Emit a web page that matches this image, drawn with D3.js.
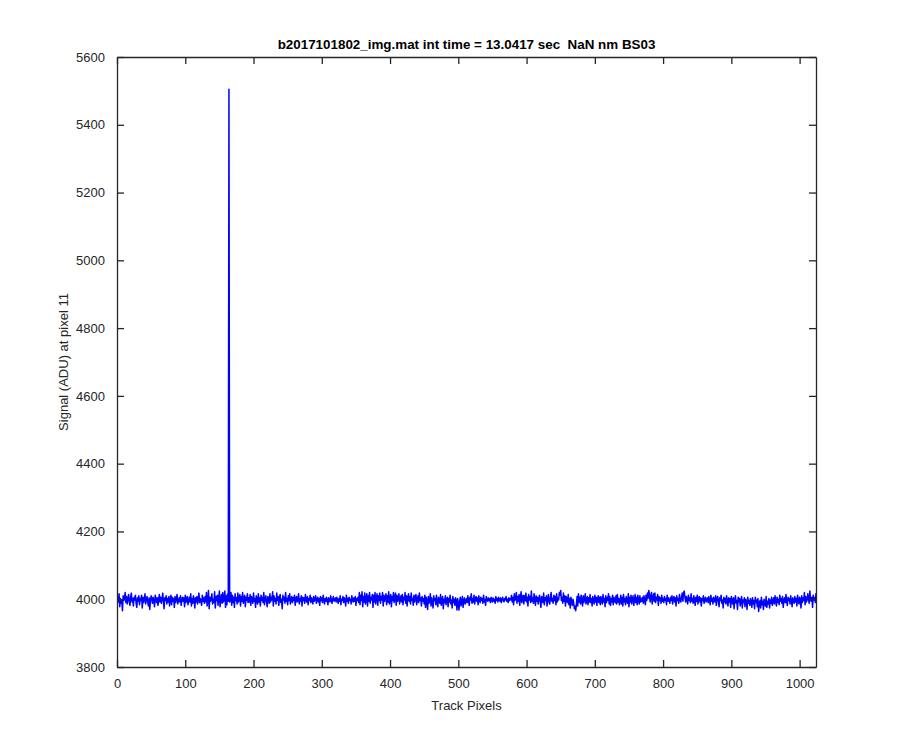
<!DOCTYPE html>
<html>
<head>
<meta charset="utf-8">
<script src="https://cdn.jsdelivr.net/npm/d3@7"></script>
<style>
  body { margin: 0; background: #fff; }
  text { font-family: "Liberation Sans", Arial, Helvetica, sans-serif; }
</style>
</head>
<body>
<div id="chart"></div>
<script>
// Chart labels
const titleText = "b2017101802_img.mat int time = 13.0417 sec  NaN nm BS03";
const xLabel = "Track Pixels";
const yLabel = "Signal (ADU) at pixel 11";

// Axis ticks
const xTicks = [0, 100, 200, 300, 400, 500, 600, 700, 800, 900, 1000];
const yTicks = [3800, 4000, 4200, 4400, 4600, 4800, 5000, 5200, 5400, 5600];

// Signal per track pixel (pixel 1..1024)
const signal = [
  4006,3992,4016,3978,4002,3988,3998,3966,4010,3996,4004,4020,3990,4008,3986,4000,4014,3994,3982,4008,4018,3992,4002,3980,4006,3998,4012,3988,3976,4004,3994,4010,
  3984,4002,3996,4012,3974,4006,3990,4000,4016,3986,3998,4008,3992,3980,4004,3970,3996,4010,4000,3988,4006,3994,3978,4012,4002,3990,4004,3982,3998,4014,3992,4006,
  3988,4000,4018,3994,3972,4004,3996,4010,3986,4002,3992,4008,3980,3998,4012,3984,4006,3994,4002,3976,4008,3990,4000,4014,3986,3996,4004,3992,4010,3982,3998,4006,
  3994,4004,3978,4012,3990,4000,4008,3984,3996,4006,3992,4016,3980,4002,3988,4010,3998,3974,4004,3992,4008,3986,4000,4018,3990,4002,3996,3982,4012,3994,4004,3988,
  4008,3992,4020,3980,3996,4026,3972,4006,3994,4002,4016,3986,4000,3990,4022,3974,4008,3996,4012,3982,4004,4024,3978,3998,4014,3988,4020,3992,4002,4024,3976,4010,
  3984,4016,3994,5505,3992,3998,4020,3982,4012,3990,4006,3976,4016,3996,4004,3986,4018,3992,4002,4014,3980,4008,3994,4020,3988,3998,4012,3978,4006,3996,4016,3990,
  4004,3992,4014,3982,4008,3998,3988,4018,3994,4002,3976,4010,4000,3986,4016,3992,4004,3980,4012,3996,4006,3990,4020,3984,4000,4010,3994,3978,4008,4002,3988,4016,
  3992,4006,3998,4022,3980,4010,3994,4002,3986,4018,3996,4008,3982,4004,4014,3990,4000,3972,4012,3998,4006,3988,4020,3994,4002,3984,4010,3996,4016,3986,4000,4008,
  3990,4004,3996,4012,3982,4000,4008,3992,3998,4016,3986,4002,3994,4010,3980,4006,3996,4004,3988,4014,3998,3992,4008,3984,4002,3996,4012,3990,4004,3998,3986,4008,
  3994,4000,4010,3988,3998,4006,3992,4002,3982,4008,3996,4004,3990,4012,3998,3986,4002,3994,4006,3996,3984,4004,4000,3992,4010,3998,3988,4002,4008,3994,3998,4004,
  3992,4006,3998,3988,4002,3994,4010,3984,4000,3996,4008,3990,4004,3998,3980,4012,3994,4002,3988,4006,3996,4000,3986,4010,3998,3992,4004,3994,4008,3982,4002,3996,
  4006,3990,4020,3984,4012,3996,4022,3978,4008,3992,4018,3986,4002,4016,3980,4010,3994,4020,3988,4006,3998,4014,3976,4012,3992,4020,3986,4004,4016,3982,4010,3996,
  4018,3988,4008,3998,4020,3980,4012,3994,4004,4016,3984,4010,3992,4022,3986,4002,4014,3978,4008,3996,4020,3990,4006,4018,3982,4012,3994,4004,4016,3986,4000,4010,
  3992,4014,3984,4006,3998,4020,3988,4010,3980,4004,4016,3994,4008,3986,4018,3996,4002,3982,4012,3992,4006,4014,3984,4000,4010,3990,4018,3996,4004,3980,4008,3994,
  4002,3986,4012,3976,4006,3994,3970,4008,3988,3998,4016,3980,4004,3992,3974,4010,3996,4002,3984,4012,3990,3978,4006,3998,3988,4014,3982,3996,4008,3972,4000,3990,
  4010,3984,3996,4006,3978,4002,3992,4012,3986,3998,3974,4008,3990,4000,3982,4004,3994,3968,4002,3988,3968,3996,4006,3980,3992,4008,3976,3998,4004,3986,3994,4002,
  3990,4010,3996,3982,4006,3998,4016,3988,4002,3992,4012,3986,4000,4008,3994,4004,3984,4010,3998,3990,4006,3996,4002,3988,4012,3992,4000,3982,4008,3998,3994,4004,
  3996,4002,3990,4006,3998,3992,4004,3994,4000,3988,4008,3996,4002,3992,4006,3998,3994,4004,3990,4000,4006,3996,3992,4002,3998,4008,3994,4000,3990,4004,3996,4002,
  3998,4012,3992,4006,3984,4016,3996,4002,4020,3988,4008,3994,4014,3982,4004,4022,3990,4000,4012,3986,4010,3996,4018,3992,4006,3980,4014,3998,4008,3990,4024,3994,
  4004,3988,4016,3998,3982,4010,3994,4006,3986,4002,4012,3992,3976,4008,3998,3990,4018,3984,4004,3996,4010,3980,4000,4014,3992,3986,4006,4020,3994,4002,3988,4012,
  3996,4008,3984,4016,3992,4004,3998,4020,4012,4026,3996,4006,3988,4018,3994,4010,3980,4008,4000,3990,4014,3984,4002,3974,4006,3994,3982,4000,3990,3972,3980,3966,
  3984,4008,3980,4016,3992,4006,3986,4012,3996,3980,4010,3990,4002,4016,3986,3996,4008,3984,4004,3992,4014,3990,4002,3980,4008,3996,3986,4012,3992,4006,3982,4002,
  4010,3990,4006,3984,4008,3996,3986,4014,3992,4002,3978,4010,3990,4006,3996,4016,3986,4008,3982,4002,3992,4012,3984,4006,3996,3990,4010,3986,4014,3992,4002,3984,
  3996,4012,3986,4006,3980,4014,3992,4002,3984,4008,3996,3988,4016,3978,4006,3992,4012,3986,4000,4010,3982,3996,4014,3990,4006,3984,4012,3996,3986,4010,3992,4002,
  3994,4006,3988,4010,3998,3984,4012,3996,4018,4002,4026,4014,3992,4008,4020,3986,4004,4016,3994,4018,3990,4006,3998,4014,3982,4008,3996,4004,3988,4012,3994,4002,
  3990,4008,3996,4002,3984,4012,3994,4004,3998,3988,4006,3996,4010,3986,4000,4008,3992,4004,3980,4010,3996,4002,3988,4014,3998,3992,4006,4018,3994,4020,4024,4006,
  3992,4008,3998,3986,4012,3996,4004,3990,4016,3994,4002,3988,4010,3998,3982,4006,3994,4012,3986,4000,4008,3992,4004,3980,4002,3996,4010,3988,3998,4006,3992,4000,
  4004,3990,4008,3996,3984,4012,3994,4002,3986,4006,3998,3992,4010,3982,4000,4008,3994,3978,4004,3996,4012,3988,3998,3974,4006,3992,4002,3986,4010,3996,3980,4004,
  3992,4002,3976,4008,3994,3986,4004,3972,3998,4010,3988,3996,3970,4006,3992,4002,3980,3996,4008,3974,3998,3990,4004,3978,4000,3994,3970,4006,3988,3996,3982,4002,
  3992,3976,4004,3986,3996,3972,4006,3990,3998,3978,4002,3964,3988,3996,3974,4006,3984,3994,3970,4000,3990,3980,4008,3976,3994,3986,4002,3974,3998,3988,4006,3982,
  3994,4004,3986,4010,3996,3980,4006,3990,4000,3984,4012,3994,4002,3988,4008,3976,3998,4004,3990,4014,3992,3982,4006,3996,4002,3986,4010,3994,3978,4004,3998,3988,
  4008,3992,4002,3980,4012,3996,3986,4006,3998,3974,4010,3990,4004,3996,4020,3984,4008,3992,3998,4016,4002,3988,4024,4000,3994,4006,3976,4012,3998,4004,3990,4018
];

// Build point list: track pixel numbers start at 1
const points = signal.map((v, i) => ({ x: i + 1, y: v }));

const width = 900;
const height = 750;
const margin = { top: 57, right: 84, bottom: 83, left: 117 };
const innerW = width - margin.left - margin.right;
const innerH = height - margin.top - margin.bottom;
const axisColor = "#262626";

const svg = d3
  .select("#chart")
  .append("svg")
  .attr("width", width)
  .attr("height", height);

const g = svg
  .append("g")
  .attr("transform", `translate(${margin.left},${margin.top})`);

const x = d3.scaleLinear().domain([0, 1024]).range([0, innerW]);
const y = d3.scaleLinear().domain([3800, 5600]).range([innerH, 0]);

// Clip the data line to the axes box
svg
  .append("defs")
  .append("clipPath")
  .attr("id", "clip")
  .append("rect")
  .attr("width", innerW)
  .attr("height", innerH);

// Data line
const line = d3
  .line()
  .x((d) => x(d.x))
  .y((d) => y(d.y));

g.append("path")
  .datum(points)
  .attr("clip-path", "url(#clip)")
  .attr("fill", "none")
  .attr("stroke", "#0000ff")
  .attr("stroke-width", 1.5)
  .attr("stroke-linejoin", "round")
  .attr("d", line);

// Axes with inward ticks on all four sides (MATLAB box style)
const fmt = d3.format("d");

function styleAxis(sel, showText) {
  sel.select(".domain").attr("stroke", axisColor).attr("stroke-width", 1.3);
  sel.selectAll(".tick line").attr("stroke", axisColor).attr("stroke-width", 1.3);
  sel
    .selectAll(".tick text")
    .attr("fill", "#262626")
    .style("font-size", "13px")
    .style("display", showText ? null : "none");
}

g.append("g")
  .attr("transform", `translate(0,${innerH})`)
  .call(d3.axisBottom(x).tickValues(xTicks).tickFormat(fmt).tickSizeInner(-7).tickSizeOuter(0).tickPadding(12))
  .call((s) => styleAxis(s, true));

g.append("g")
  .call(d3.axisTop(x).tickValues(xTicks).tickSizeInner(-7).tickSizeOuter(0))
  .call((s) => styleAxis(s, false));

g.append("g")
  .call(d3.axisLeft(y).tickValues(yTicks).tickFormat(fmt).tickSizeInner(-7).tickSizeOuter(0).tickPadding(12))
  .call((s) => styleAxis(s, true));

g.append("g")
  .attr("transform", `translate(${innerW},0)`)
  .call(d3.axisRight(y).tickValues(yTicks).tickSizeInner(-7).tickSizeOuter(0))
  .call((s) => styleAxis(s, false));

// Title (keeps the double space before NaN)
svg
  .append("text")
  .attr("x", margin.left + innerW / 2)
  .attr("y", 49)
  .attr("text-anchor", "middle")
  .style("font-size", "13.4px")
  .style("font-weight", "bold")
  .style("white-space", "pre")
  .attr("fill", "#000")
  .text(titleText);

// X axis label
svg
  .append("text")
  .attr("x", margin.left + innerW / 2)
  .attr("y", 710)
  .attr("text-anchor", "middle")
  .style("font-size", "13px")
  .attr("fill", "#262626")
  .text(xLabel);

// Y axis label
svg
  .append("text")
  .attr("transform", `translate(68,${margin.top + innerH / 2}) rotate(-90)`)
  .attr("text-anchor", "middle")
  .style("font-size", "13px")
  .attr("fill", "#262626")
  .text(yLabel);
</script>
</body>
</html>
